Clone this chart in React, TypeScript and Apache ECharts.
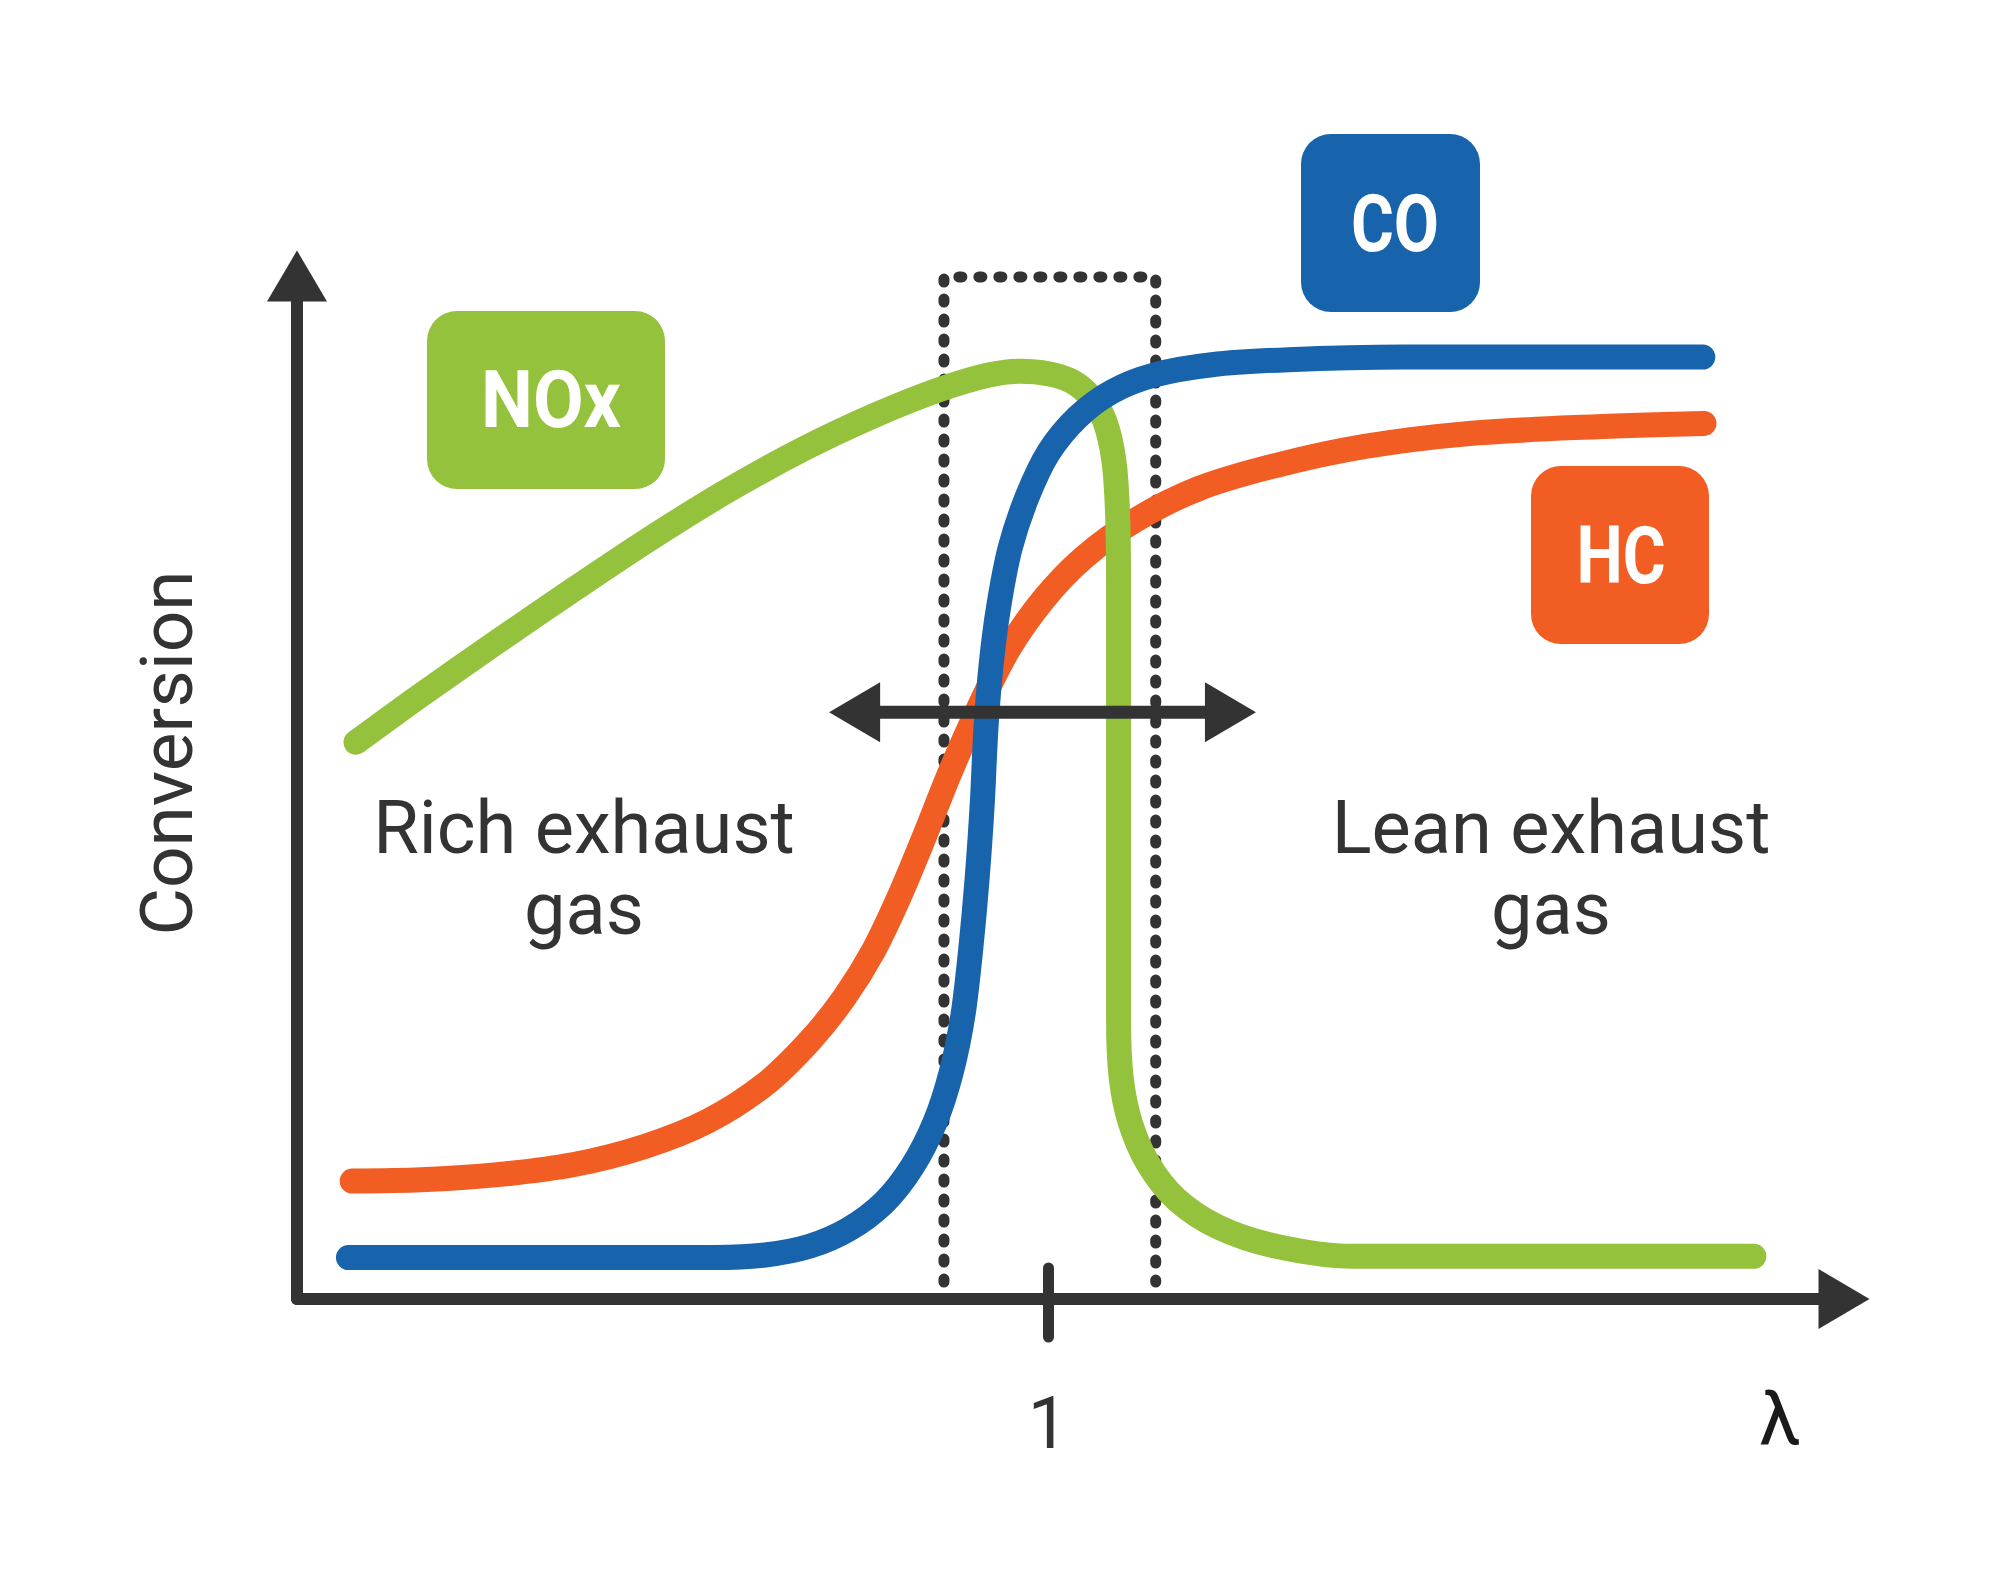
import React, { useEffect, useRef } from 'react';
import * as echarts from 'echarts';

// λ (air ratio) and conversion (%) values
const HC_LAMBDA = [0.8147, 0.833, 0.8534, 0.8738, 0.8925, 0.9094, 0.9247, 0.9366, 0.9458, 0.9536, 0.9604, 0.9672, 0.974, 0.9811, 0.9893, 0.9988, 1.0096, 1.0232, 1.0402, 1.0606, 1.0844, 1.1115, 1.1421, 1.1747];
const HC_CONV = [12.52, 12.65, 13.2, 14.28, 16.18, 18.88, 22.81, 27.41, 32.02, 37.03, 42.71, 49.21, 55.98, 62.35, 68.85, 74.26, 78.73, 82.66, 86.04, 88.48, 90.51, 91.86, 92.54, 92.95];

const NOX_LAMBDA = [0.8157, 0.833, 0.8534, 0.8738, 0.8942, 0.9145, 0.9349, 0.9536, 0.9706, 0.9842, 0.9927, 1.0001, 1.0063, 1.0113, 1.0151, 1.0175, 1.0185, 1.0188, 1.0188, 1.0188, 1.0188, 1.0195, 1.0219, 1.0266, 1.0341, 1.0453, 1.0606, 1.081, 1.1285, 1.188];
const NOX_CONV = [59.1, 64.11, 69.79, 75.35, 80.76, 85.77, 90.24, 93.76, 96.47, 98.09, 98.5, 98.23, 97.42, 95.79, 93.22, 89.16, 83.74, 75.62, 62.08, 45.83, 29.58, 23.49, 18.75, 14.42, 10.62, 7.65, 5.61, 4.53, 4.53, 4.53];

const CO_LAMBDA = [0.8137, 0.8636, 0.9111, 0.9247, 0.9366, 0.9468, 0.9563, 0.9638, 0.9699, 0.9743, 0.9774, 0.9794, 0.9811, 0.9825, 0.9835, 0.9849, 0.9869, 0.9899, 0.9944, 1.0001, 1.0079, 1.0171, 1.0283, 1.0436, 1.064, 1.0946, 1.1744];
const CO_CONV = [4.4, 4.4, 4.4, 4.67, 5.61, 7.37, 10.22, 14.01, 18.75, 24.16, 30.26, 37.03, 44.47, 52.6, 60.72, 67.49, 73.58, 79.68, 85.09, 89.83, 93.62, 96.33, 98.09, 99.18, 99.72, 99.99, 99.99];

// λ window (dotted box) and the double arrow
const WINDOW_LAMBDA = [0.9723, 1.0287];
const WINDOW_CONV = [1.8, 108.5];
const ARROW_LAMBDA = [0.9485, 1.0486];
const ARROW_CONV = 62.3;

const X_MIN = 0.8;
const X_MAX = 1.212;
const Y_MAX = 108.6;
const TICK_VALUES = [1];

const SERIES_NAMES = ['HC', 'NOx', 'CO'];
const REGION_LABELS = ['Rich exhaust\ngas', 'Lean exhaust\ngas'];

const DARK = '#333333';
const GREEN = '#95C23D';
const BLUE = '#1763AC';
const ORANGE = '#F15D22';
const FONT = "Roboto, 'Liberation Sans', sans-serif";
const BOLD_FONT = "Roboto, 'Liberation Sans', sans-serif";

const zip = (xs: number[], ys: number[]) => xs.map((x, i) => [x, ys[i]]);

function curve(name: string, xs: number[], ys: number[], color: string, z: number) {
  return {
    type: 'line',
    name,
    data: zip(xs, ys),
    smooth: 0.3,
    symbol: 'none',
    showSymbol: false,
    silent: true,
    clip: false,
    z,
    lineStyle: { color, width: 25, cap: 'round', join: 'round' },
  };
}

function boxLabel(text: string, x: number, y: number, scaleX: number) {
  return {
    type: 'text',
    x,
    y,
    scaleX,
    z: 20,
    style: {
      text,
      fill: '#ffffff',
      fontSize: 80,
      fontWeight: 'bold',
      fontFamily: BOLD_FONT,
      textAlign: 'center',
      textVerticalAlign: 'middle',
      align: 'center',
      verticalAlign: 'middle',
    },
  };
}

function regionLabel(text: string, x: number, y: number) {
  return {
    type: 'text',
    x,
    y,
    z: 20,
    style: {
      text,
      fill: DARK,
      fontSize: 74,
      fontWeight: 'normal',
      lineHeight: 81,
      fontFamily: FONT,
      textAlign: 'center',
      textVerticalAlign: 'middle',
      align: 'center',
      verticalAlign: 'middle',
    },
  };
}

export default function App() {
  const ref = useRef<HTMLDivElement>(null);
  useEffect(() => {
    document.body.style.margin = '0';
    const chart = echarts.init(ref.current as HTMLDivElement, null, { renderer: 'svg', width: 2000, height: 1574 });
    const axisLineStyle = { color: DARK, width: 12, cap: 'round' };
    const option: any = {
      animation: false,
      backgroundColor: '#ffffff',
      grid: { left: 297, right: 156, top: 276, bottom: 275, containLabel: false, outerBoundsMode: 'none' },
      xAxis: [
        {
          type: 'value',
          min: X_MIN,
          max: X_MAX,
          position: 'bottom',
          axisLine: { show: true, onZero: false, symbol: ['none', 'triangle'], symbolSize: [60, 51], lineStyle: axisLineStyle },
          axisTick: { show: true, customValues: TICK_VALUES, length: 38, lineStyle: { color: DARK, width: 11, cap: 'round' } },
          axisLabel: { show: true, customValues: TICK_VALUES, formatter: (v: number) => String(Math.round(v)), margin: 88, fontSize: 72, color: DARK, fontFamily: FONT },
          splitLine: { show: false },
          name: 'λ',
          nameLocation: 'end',
          nameGap: -64,
          nameTextStyle: { fontSize: 75, color: '#1a1a1a', fontFamily: FONT, align: 'center', verticalAlign: 'top', padding: [81, 0, 0, 0] },
        },
        {
          type: 'value',
          min: X_MIN,
          max: X_MAX,
          position: 'bottom',
          axisLine: { show: false, onZero: false },
          axisTick: { show: true, inside: true, customValues: TICK_VALUES, length: 31, lineStyle: { color: DARK, width: 11, cap: 'round' } },
          axisLabel: { show: false },
          splitLine: { show: false },
        },
      ],
      yAxis: {
        type: 'value',
        min: 0,
        max: Y_MAX,
        axisLine: { show: true, onZero: false, symbol: ['none', 'triangle'], symbolSize: [60, 51], lineStyle: axisLineStyle },
        axisTick: { show: false },
        axisLabel: { show: false },
        splitLine: { show: false },
        name: 'Conversion',
        nameLocation: 'middle',
        nameGap: 94,
        nameTextStyle: { fontSize: 73, color: DARK, fontFamily: FONT, padding: [0, 0, 0, 69] },
      },
      series: [
        {
          type: 'line',
          name: 'λ window',
          data: [
            [WINDOW_LAMBDA[0], WINDOW_CONV[0]],
            [WINDOW_LAMBDA[0], WINDOW_CONV[1]],
            [WINDOW_LAMBDA[1], WINDOW_CONV[1]],
            [WINDOW_LAMBDA[1], WINDOW_CONV[0]],
          ],
          symbol: 'none',
          silent: true,
          clip: false,
          z: 1,
          lineStyle: { color: DARK, width: 11, type: [3, 17], cap: 'round', join: 'round' },
        },
        curve(SERIES_NAMES[0], HC_LAMBDA, HC_CONV, ORANGE, 2),
        curve(SERIES_NAMES[1], NOX_LAMBDA, NOX_CONV, GREEN, 3),
        curve(SERIES_NAMES[2], CO_LAMBDA, CO_CONV, BLUE, 4),
        {
          type: 'line',
          name: 'λ control range',
          data: [
            { value: [ARROW_LAMBDA[0], ARROW_CONV], symbol: 'triangle', symbolSize: [60, 51], symbolRotate: 90 },
            { value: [ARROW_LAMBDA[1], ARROW_CONV], symbol: 'triangle', symbolSize: [60, 51], symbolRotate: -90 },
          ],
          showSymbol: true,
          showAllSymbol: true,
          silent: true,
          clip: false,
          z: 6,
          itemStyle: { color: DARK, opacity: 1 },
          lineStyle: { color: DARK, width: 13 },
        },
      ],
      graphic: [
        { type: 'rect', z: 10, shape: { x: 427, y: 311, width: 238, height: 178, r: 30 }, style: { fill: GREEN } },
        boxLabel(SERIES_NAMES[1], 551, 400, 0.92),
        { type: 'rect', z: 10, shape: { x: 1301, y: 134, width: 179, height: 178, r: 30 }, style: { fill: BLUE } },
        boxLabel(SERIES_NAMES[2], 1395, 224, 0.82),
        { type: 'rect', z: 10, shape: { x: 1531, y: 466, width: 178, height: 178, r: 30 }, style: { fill: ORANGE } },
        boxLabel(SERIES_NAMES[0], 1621, 556, 0.82),
        regionLabel(REGION_LABELS[0], 584, 868),
        regionLabel(REGION_LABELS[1], 1551, 868),
      ],
    };
    chart.setOption(option);
    return () => chart.dispose();
  }, []);
  return <div ref={ref} style={{ position: 'absolute', left: 0, top: 0, width: 2000, height: 1574, background: '#fff' }} />;
}
